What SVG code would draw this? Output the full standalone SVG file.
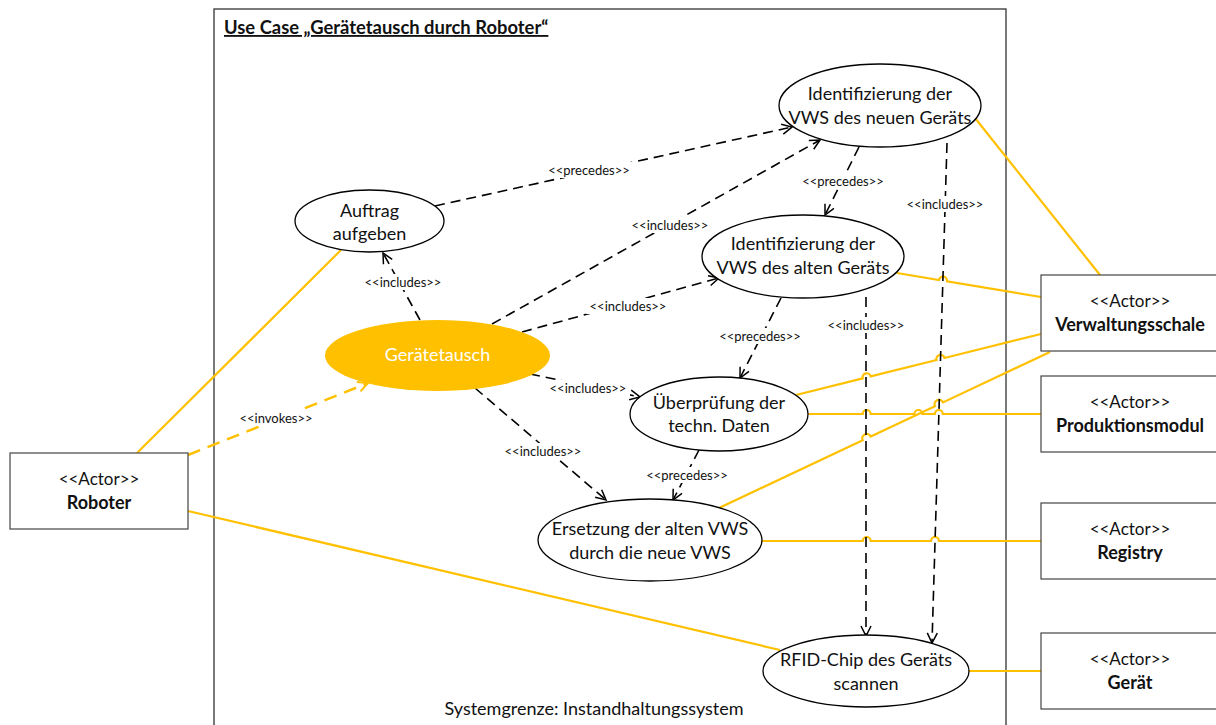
<svg xmlns="http://www.w3.org/2000/svg" width="1216" height="725" viewBox="0 0 1216 725">
  <defs>
    <style>
      text { font-family: Lato, "Open Sans", "Liberation Sans", sans-serif; fill: #111; }
      .uc { fill: #fff; stroke: #000; stroke-width: 1.3; }
      .actor { fill: #fff; stroke: #444; stroke-width: 1.2; }
      .uctext { font-size: 18px; text-anchor: middle; }
      .actortext { font-size: 17px; text-anchor: middle; }
      .bold { font-weight: bold; }
      .name { font-size: 18px; }
      .dep { fill: none; stroke: #000; stroke-width: 1.6; stroke-dasharray: 10 6; marker-end: url(#openArrow); }
      .assoc { fill: none; stroke: #FFC000; stroke-width: 2.2; }
      .invoke { fill: none; stroke: #FFC000; stroke-width: 2.5; stroke-dasharray: 13 8; marker-end: url(#openArrowY); }
      .lbl { font-size: 13px; text-anchor: middle; }
      .lblbg { fill: #fff; }
    </style>
    <marker id="openArrow" markerUnits="userSpaceOnUse" markerWidth="14" markerHeight="14" refX="11" refY="6" orient="auto">
      <path d="M1,1 L11,6 L1,11" fill="none" stroke="#000" stroke-width="1.5"/>
    </marker>
    <marker id="openArrowY" markerUnits="userSpaceOnUse" markerWidth="14" markerHeight="14" refX="11" refY="6" orient="auto">
      <path d="M1,1 L11,6 L1,11" fill="none" stroke="#FFC000" stroke-width="2"/>
    </marker>
  </defs>

  <rect width="1216" height="725" fill="#fff"/>

  <!-- system boundary -->
  <g id="system">
    <rect x="214" y="9" width="792" height="730" fill="none" stroke="#333" stroke-width="1.3"/>
    <text x="224" y="34" font-size="18.4" class="bold" text-decoration="underline">Use Case „Gerätetausch durch Roboter“</text>
    <text x="594" y="715" font-size="18" text-anchor="middle">Systemgrenze: Instandhaltungssystem</text>
  </g>

  <!-- connectors -->
  <g id="connectors">
    <!-- associations to actors -->
    <path class="assoc" d="M137,453 L341,250"/>
    <path class="assoc" d="M188,511 L780,650"/>
    <path class="assoc" d="M975,118 L1100,275"/>
    <path class="assoc" d="M897,273 L939,280 A4,4 0 0 1 947,281.3 L1041,297"/>
    <path class="assoc" d="M796,395 L862.7,378.4 A4,4 0 0 1 870.7,376.4 L936.5,360 A4,4 0 0 1 944.5,358 L1041,334"/>
    <path class="assoc" d="M808,414 L862.7,414 A4,4 0 0 1 870.7,414 L914.4,414 A4,4 0 0 1 922.4,414 L934.8,414 A4,4 0 0 1 942.8,414 L1041,414"/>
    <path class="assoc" d="M719,508 L862.7,440.3 A4,4 0 0 1 870.7,436.5 L935,406.2 A4,4 0 0 1 943,402.4 L1050,352"/>
    <path class="assoc" d="M762,541 L862.7,541 A4,4 0 0 1 870.7,541 L931,541 A4,4 0 0 1 939,541 L1041,541"/>
    <path class="assoc" d="M969,671 L1041,671"/>
    <path class="invoke" d="M188,455 L368,383"/>

    <!-- include / precede dependencies -->
    <path class="dep" d="M435,206 L792,127"/>
    <path class="dep" d="M420,320 L383,253"/>
    <path class="dep" d="M492,324 L820,140"/>
    <path class="dep" d="M522,332 L719,278"/>
    <path class="dep" d="M530,374 L640,397"/>
    <path class="dep" d="M475,388 L606,500"/>
    <path class="dep" d="M859,147 L825,215"/>
    <path class="dep" d="M781,298 L740,378"/>
    <path class="dep" d="M699,450 L673,500"/>
    <path class="dep" d="M947,143 L932,643"/>
    <path class="dep" d="M866,297 L866,636"/>

    <!-- labels -->
    <g>
      <rect class="lblbg" x="544" y="162" width="90" height="16"/>
      <text class="lbl" x="589" y="175">&lt;&lt;precedes&gt;&gt;</text>
      <rect class="lblbg" x="361" y="274" width="84" height="16"/>
      <text class="lbl" x="403" y="287">&lt;&lt;includes&gt;&gt;</text>
      <rect class="lblbg" x="628" y="217" width="84" height="16"/>
      <text class="lbl" x="670" y="230">&lt;&lt;includes&gt;&gt;</text>
      <rect class="lblbg" x="586" y="298" width="84" height="16"/>
      <text class="lbl" x="628" y="311">&lt;&lt;includes&gt;&gt;</text>
      <rect class="lblbg" x="546" y="380" width="84" height="16"/>
      <text class="lbl" x="588" y="393">&lt;&lt;includes&gt;&gt;</text>
      <rect class="lblbg" x="501" y="443" width="84" height="16"/>
      <text class="lbl" x="543" y="456">&lt;&lt;includes&gt;&gt;</text>
      <rect class="lblbg" x="798" y="173" width="90" height="16"/>
      <text class="lbl" x="843" y="186">&lt;&lt;precedes&gt;&gt;</text>
      <rect class="lblbg" x="715" y="328" width="90" height="16"/>
      <text class="lbl" x="760" y="341">&lt;&lt;precedes&gt;&gt;</text>
      <rect class="lblbg" x="642" y="467" width="90" height="16"/>
      <text class="lbl" x="687" y="480">&lt;&lt;precedes&gt;&gt;</text>
      <rect class="lblbg" x="903" y="196" width="84" height="16"/>
      <text class="lbl" x="945" y="209">&lt;&lt;includes&gt;&gt;</text>
      <rect class="lblbg" x="824" y="317" width="84" height="16"/>
      <text class="lbl" x="866" y="330">&lt;&lt;includes&gt;&gt;</text>
      <rect class="lblbg" x="235" y="410" width="82" height="16"/>
      <text class="lbl" x="276" y="423">&lt;&lt;invokes&gt;&gt;</text>
    </g>
  </g>

  <!-- use cases -->
  <g id="uc-auftrag">
    <ellipse class="uc" cx="369.5" cy="221" rx="74.5" ry="31"/>
    <text class="uctext" x="369.5" y="217">Auftrag</text>
    <text class="uctext" x="369.5" y="240">aufgeben</text>
  </g>
  <g id="uc-geraetetausch">
    <ellipse cx="437.5" cy="355.5" rx="112.5" ry="35.5" fill="#FFC000"/>
    <text class="uctext" x="437.5" y="361" style="fill:#fff">Gerätetausch</text>
  </g>
  <g id="uc-ident-neu">
    <ellipse class="uc" cx="880" cy="105.5" rx="101" ry="41.5"/>
    <text class="uctext" x="880" y="100">Identifizierung der</text>
    <text class="uctext" x="880" y="124">VWS des neuen Geräts</text>
  </g>
  <g id="uc-ident-alt">
    <ellipse class="uc" cx="803" cy="256.5" rx="101" ry="41.5"/>
    <text class="uctext" x="803" y="250">Identifizierung der</text>
    <text class="uctext" x="803" y="274">VWS des alten Geräts</text>
  </g>
  <g id="uc-pruefung">
    <ellipse class="uc" cx="719" cy="414" rx="89" ry="37"/>
    <text class="uctext" x="719" y="409">Überprüfung der</text>
    <text class="uctext" x="719" y="432">techn. Daten</text>
  </g>
  <g id="uc-ersetzung">
    <ellipse class="uc" cx="650" cy="540" rx="112" ry="41"/>
    <text class="uctext" x="650" y="535">Ersetzung der alten VWS</text>
    <text class="uctext" x="650" y="559">durch die neue VWS</text>
  </g>
  <g id="uc-rfid">
    <ellipse class="uc" cx="866" cy="671" rx="103" ry="36"/>
    <text class="uctext" x="866" y="666">RFID-Chip des Geräts</text>
    <text class="uctext" x="866" y="690">scannen</text>
  </g>

  <!-- actors -->
  <g id="actor-roboter">
    <rect class="actor" x="10" y="453" width="178" height="76"/>
    <text class="actortext" x="99" y="485">&lt;&lt;Actor&gt;&gt;</text>
    <text class="actortext bold name" x="99" y="509">Roboter</text>
  </g>
  <g id="actor-verwaltungsschale">
    <rect class="actor" x="1041" y="275" width="178" height="76"/>
    <text class="actortext" x="1130" y="307">&lt;&lt;Actor&gt;&gt;</text>
    <text class="actortext bold name" x="1130" y="331">Verwaltungsschale</text>
  </g>
  <g id="actor-produktionsmodul">
    <rect class="actor" x="1041" y="376" width="178" height="76"/>
    <text class="actortext" x="1130" y="408">&lt;&lt;Actor&gt;&gt;</text>
    <text class="actortext bold name" x="1130" y="432">Produktionsmodul</text>
  </g>
  <g id="actor-registry">
    <rect class="actor" x="1041" y="503" width="178" height="76"/>
    <text class="actortext" x="1130" y="535">&lt;&lt;Actor&gt;&gt;</text>
    <text class="actortext bold name" x="1130" y="559">Registry</text>
  </g>
  <g id="actor-geraet">
    <rect class="actor" x="1041" y="633" width="178" height="76"/>
    <text class="actortext" x="1130" y="665">&lt;&lt;Actor&gt;&gt;</text>
    <text class="actortext bold name" x="1130" y="689">Gerät</text>
  </g>
</svg>
